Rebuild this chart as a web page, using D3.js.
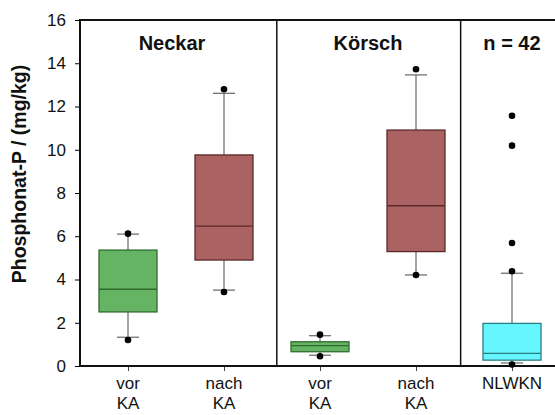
<!DOCTYPE html>
<html><head><meta charset="utf-8">
<script src="https://cdn.jsdelivr.net/npm/d3@7"></script>
<style>body{margin:0;background:#fff}svg{display:block;font-family:"Liberation Sans",Arial,sans-serif}</style>
</head><body><svg id="c" width="555" height="415"></svg>
<script>
const categories = ["Neckar vor KA", "Neckar nach KA", "Körsch vor KA", "Körsch nach KA", "NLWKN"];
const labelLines = [["vor","KA"],["nach","KA"],["vor","KA"],["nach","KA"],["NLWKN"]];
const q1 = [2.50, 4.90, 0.66, 5.29, 0.27];
const median = [3.55, 6.47, 0.94, 7.41, 0.58];
const q3 = [5.36, 9.76, 1.12, 10.91, 1.97];
const whiskerLow = [1.33, 3.51, 0.50, 4.21, 0.14];
const whiskerHigh = [6.10, 12.61, 1.40, 13.46, 4.29];
const outliers = [[6.12, 1.20], [12.80, 3.42], [1.45, 0.45], [13.72, 4.21], [11.57, 10.19, 5.69, 4.38, 0.07]];
const groups = ["Neckar", "Körsch", "n = 42"];
const groupSpan = [[0,1],[2,3],[4,4]];
const yTicks = [0,2,4,6,8,10,12,14,16];
const fills = ["#64b463", "#ab6262", "#64b463", "#ab6262", "#66f6ff"];
const strokes = ["#2f6a2f", "#5a2a2a", "#2f6a2f", "#5a2a2a", "#2d7f86"];

(function(){
const svg = d3.select("#c");
const mLeft = 80, mTop = 20, mBottom = 366;
const y = d3.scaleLinear().domain([0,16]).range([mBottom, mTop]);
const x = d3.scalePoint().domain(categories).range([128, 512]);
const step = x.step();
const boxW = 58;

// y axis
const yAxis = d3.axisLeft(y).tickValues(yTicks).tickSize(5).tickPadding(9);
const ga = svg.append("g").attr("transform", `translate(${mLeft},0)`).call(yAxis);
ga.select(".domain").remove();
ga.selectAll("line").attr("stroke","#000");
ga.selectAll("text").attr("font-size", 17).attr("fill","#111").attr("font-family","Liberation Sans, Arial, sans-serif");

// x axis ticks
const xAxis = d3.axisBottom(x).tickSize(5).tickFormat("");
const gx = svg.append("g").attr("transform", `translate(0,${mBottom})`).call(xAxis);
gx.select(".domain").remove();
gx.selectAll("line").attr("stroke","#444");

// x labels
categories.forEach((c,i) => {
  const lines = labelLines[i];
  const t = svg.append("text").attr("x", x(c)).attr("text-anchor","middle").attr("font-size",17).attr("fill","#111");
  if (lines.length === 1) {
    t.attr("y", 389).text(lines[0]);
  } else {
    lines.forEach((l,j) => t.append("tspan").attr("x", x(c)).attr("y", 389 + j*20).text(l));
  }
});

// dividers
const divPos = [x(categories[1]) + step*0.55, x(categories[3]) + step*0.465];
divPos.forEach(d => svg.append("line").attr("x1",d).attr("x2",d).attr("y1",y(16)).attr("y2",y(0)).attr("stroke","#111").attr("stroke-width",1.5));

// frame
svg.append("line").attr("x1",mLeft).attr("x2",555).attr("y1",y(16)).attr("y2",y(16)).attr("stroke","#111").attr("stroke-width",2);
svg.append("line").attr("x1",mLeft).attr("x2",555).attr("y1",y(0)).attr("y2",y(0)).attr("stroke","#111").attr("stroke-width",2);
svg.append("line").attr("x1",mLeft).attr("x2",mLeft).attr("y1",y(16)-1).attr("y2",y(0)+1).attr("stroke","#111").attr("stroke-width",2);

// group titles
groups.forEach((g,i) => {
  const [a,b] = groupSpan[i];
  const cx = (x(categories[a]) + x(categories[b]))/2 + (i===0 ? -4 : 0);
  svg.append("text").attr("x", cx).attr("y", 50).attr("text-anchor","middle").attr("font-size",20).attr("font-weight","bold").attr("fill","#111").text(g);
});

// boxes
categories.forEach((c,i) => {
  const cx = x(c);
  const g = svg.append("g");
  g.append("line").attr("x1",cx).attr("x2",cx).attr("y1",y(whiskerHigh[i])).attr("y2",y(q3[i])).attr("stroke","#666").attr("stroke-width",1.2);
  g.append("line").attr("x1",cx).attr("x2",cx).attr("y1",y(whiskerLow[i])).attr("y2",y(q1[i])).attr("stroke","#666").attr("stroke-width",1.2);
  [whiskerHigh[i], whiskerLow[i]].forEach(v => g.append("line").attr("x1",cx-11).attr("x2",cx+11).attr("y1",y(v)).attr("y2",y(v)).attr("stroke","#666").attr("stroke-width",1.2));
  g.append("rect").attr("x",cx-boxW/2).attr("width",boxW).attr("y",y(q3[i])).attr("height",y(q1[i])-y(q3[i])).attr("fill",fills[i]).attr("stroke",strokes[i]).attr("stroke-width",1.3);
  g.append("line").attr("x1",cx-boxW/2).attr("x2",cx+boxW/2).attr("y1",y(median[i])).attr("y2",y(median[i])).attr("stroke",strokes[i]).attr("stroke-width",1.3);
  outliers[i].forEach(v => g.append("circle").attr("cx",cx).attr("cy",y(v)).attr("r",3.3).attr("fill","#000"));
});

// y title
svg.append("text").attr("transform","translate(26,174) rotate(-90)").attr("text-anchor","middle").attr("font-size",19.5).attr("font-weight","bold").attr("fill","#111").text("Phosphonat-P / (mg/kg)");
})();
</script></body></html>
